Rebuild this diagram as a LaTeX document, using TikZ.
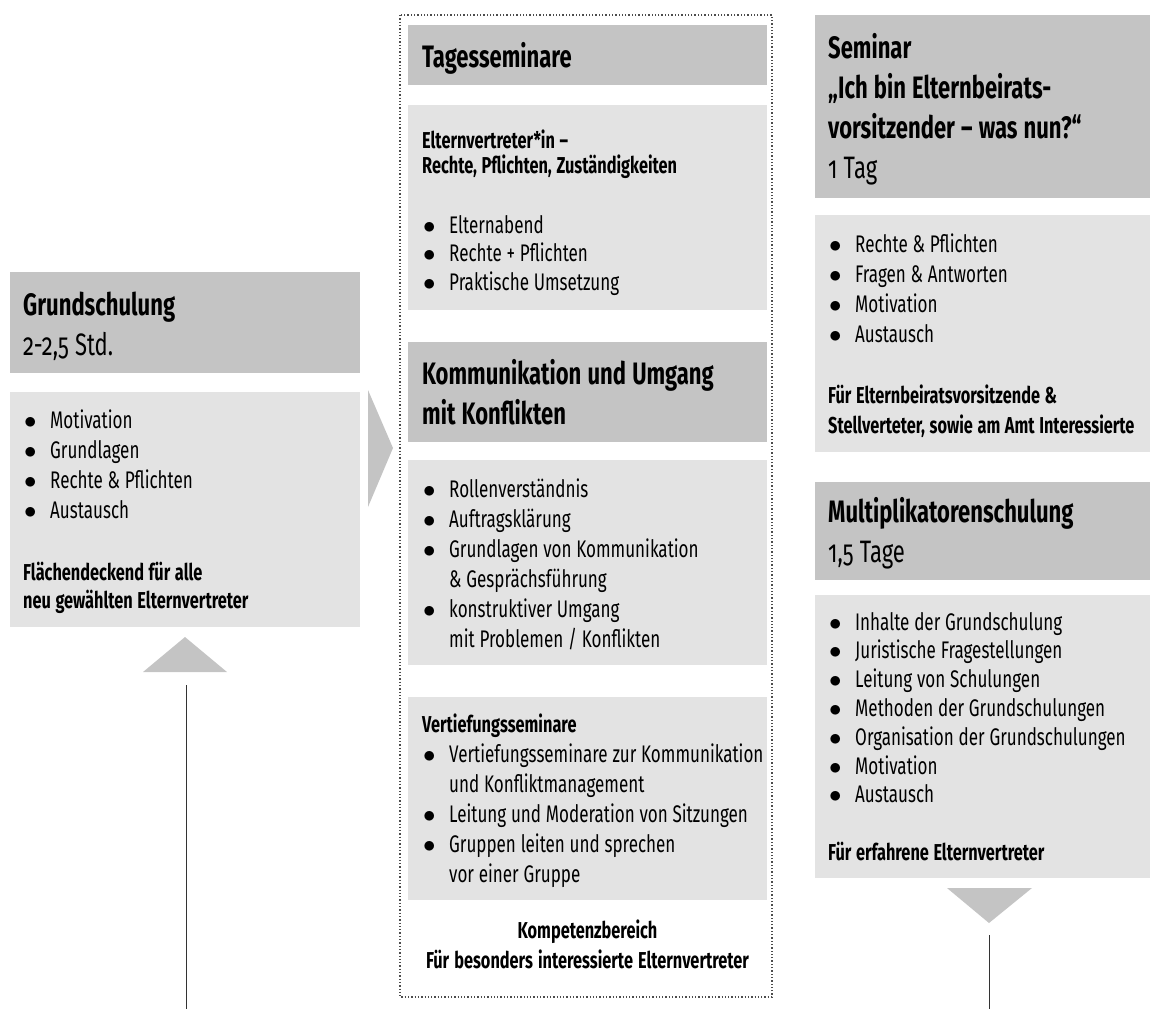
\documentclass[tikz,border=0pt]{standalone}
\usepackage{fontspec}
\setmainfont{Fira Sans}[FakeStretch=0.71,Numbers=OldStyle]
\usetikzlibrary{positioning}
\definecolor{kopfgrau}{HTML}{C4C4C4}
\definecolor{feldgrau}{HTML}{E3E3E3}
\newcommand{\punkt}{\makebox[27pt][l]{\hspace{1pt}$\bullet$}}
\newcommand{\weiter}{\hspace*{27pt}}
\newcommand{\wortabstand}{\spaceskip=0.2em plus 0.05em\relax\xspaceskip=0.2em\relax}

\begin{document}
\begin{tikzpicture}[x=1pt, y=-1pt,
    kasten/.style={anchor=north west, inner sep=0pt, outer sep=0pt},
    kopf/.style={kasten, fill=kopfgrau},
    feld/.style={kasten, fill=feldgrau},
    schrift/.style={anchor=base west, inner sep=0pt, text width=400pt, align=left,
        execute at begin node=\wortabstand},
    titel/.style={schrift, font=\fontsize{31}{40}\selectfont\bfseries},
    liste/.style={schrift, font=\fontsize{24}{30}\selectfont},
    hinweis/.style={schrift, font=\fontsize{23}{30}\selectfont\bfseries},
    spitze/.style={fill=kopfgrau},
    linie/.style={line width=1pt, black!80}]
    \useasboundingbox (0,0) rectangle (1150,1009);

    % Grundschulung
    \node[kopf, minimum width=350, minimum height=101] (gsKopf) at (10,272) {};
    \node[feld, minimum width=350, minimum height=235] (gsFeld) at (10,392) {};
    \node[titel] (gsTitel) at (23,315) {Grundschulung\\\mdseries 2-2,5 Std.};
    \node[liste] (gsListe) at (23,428) {\punkt Motivation\\\punkt Grundlagen\\
        \punkt Rechte \& Pflichten\\\punkt Austausch};
    \node[hinweis, font=\fontsize{23}{28}\selectfont\bfseries] (gsHinweis) at (23,580)
        {Flächendeckend für alle\\neu gewählten Elternvertreter};

    % Tagesseminare
    \draw[dotted, line width=1.3pt, black!70] (400,15) rectangle (772,997);
    \node[kopf, minimum width=359, minimum height=60] (tsKopf) at (408,25) {};
    \node[feld, minimum width=359, minimum height=205] (tsFeld) at (408,105) {};
    \node[kopf, minimum width=359, minimum height=100] (koKopf) at (408,342) {};
    \node[feld, minimum width=359, minimum height=205] (koFeld) at (408,460) {};
    \node[feld, minimum width=359, minimum height=203] (vtFeld) at (408,697) {};

    \node[titel] (tsTitel) at (422,67) {Tagesseminare};
    \node[hinweis, font=\fontsize{23}{25}\selectfont\bfseries] (tsHinweis) at (422,148)
        {Elternvertreter*in –\\Rechte, Pflichten, Zuständigkeiten};
    \node[liste, font=\fontsize{24}{28.5}\selectfont] (tsListe) at (422,233)
        {\punkt Elternabend\\\punkt Rechte + Pflichten\\\punkt Praktische Umsetzung};

    \node[titel] (koTitel) at (422,384) {Kommunikation und Umgang\\mit Konflikten};
    \node[liste] (koListe) at (422,497) {\punkt Rollenverständnis\\\punkt Auftragsklärung\\
        \punkt Grundlagen von Kommunikation\\\weiter\& Gesprächsführung\\
        \punkt konstruktiver Umgang\\\weiter mit Problemen / Konflikten};

    \node[hinweis] (vtTitel) at (422,732) {Vertiefungsseminare};
    \node[liste] (vtListe) at (422,762) {\punkt Vertiefungsseminare zur Kommunikation\\
        \weiter und Konfliktmanagement\\\punkt Leitung und Moderation von Sitzungen\\
        \punkt Gruppen leiten und sprechen\\\weiter vor einer Gruppe};

    \node[hinweis, anchor=base, text width=359pt, align=center] (kpHinweis) at (587.5,938)
        {Kompetenzbereich\\Für besonders interessierte Elternvertreter};

    % Seminar und Multiplikatoren
    \node[kopf, minimum width=335, minimum height=183] (seKopf) at (815,15) {};
    \node[feld, minimum width=335, minimum height=237] (seFeld) at (815,215) {};
    \node[kopf, minimum width=335, minimum height=98] (muKopf) at (815,482) {};
    \node[feld, minimum width=335, minimum height=283] (muFeld) at (815,595) {};

    \node[titel] (seTitel) at (828,58) {Seminar\\„Ich bin Elternbeirats-\\
        vorsitzender – was nun?“\\\mdseries 1 Tag};
    \node[liste] (seListe) at (828,252) {\punkt Rechte \& Pflichten\\\punkt Fragen \& Antworten\\
        \punkt Motivation\\\punkt Austausch};
    \node[hinweis] (seHinweis) at (828,403)
        {Für Elternbeiratsvorsitzende \&\\Stellverteter, sowie am Amt Interessierte};

    \node[titel] (muTitel) at (828,522) {Multiplikatorenschulung\\\mdseries 1,5 Tage};
    \node[liste, font=\fontsize{24}{28.8}\selectfont] (muListe) at (828,630)
        {\punkt Inhalte der Grundschulung\\\punkt Juristische Fragestellungen\\
        \punkt Leitung von Schulungen\\\punkt Methoden der Grundschulungen\\
        \punkt Organisation der Grundschulungen\\\punkt Motivation\\\punkt Austausch};
    \node[hinweis] (muHinweis) at (828,860) {Für erfahrene Elternvertreter};

    % Pfeile
    \fill[spitze] (368,390) -- (393,448) -- (368,507) -- cycle;
    \fill[spitze] (143,672) -- (185,637) -- (227,672) -- cycle;
    \fill[spitze] (947,888) -- (1032,888) -- (989,923) -- cycle;
    \coordinate (gsLinieOben) at (186,685);
    \coordinate (gsLinieUnten) at (186,1009);
    \coordinate (muLinieOben) at (989,935);
    \coordinate (muLinieUnten) at (989,1009);
    \draw[linie] (gsLinieOben) -- (gsLinieUnten);
    \draw[linie] (muLinieOben) -- (muLinieUnten);
\end{tikzpicture}
\end{document}
